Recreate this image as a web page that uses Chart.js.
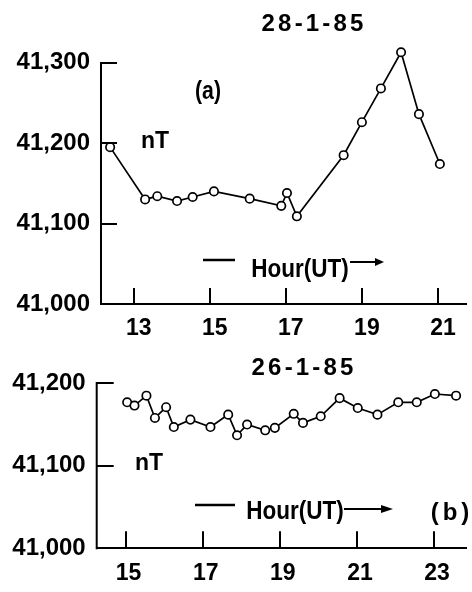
<!DOCTYPE html>
<html><head><meta charset="utf-8">
<script src="https://cdn.jsdelivr.net/npm/chart.js@4.4.1/dist/chart.umd.min.js"></script>
<style>
html,body{margin:0;padding:0;background:#fff;}
#wrap{position:relative;width:472px;height:592px;overflow:hidden;background:#fff;}
canvas{position:absolute;left:0;}
#ca{top:0;}
#cb{top:340px;}
</style></head><body>
<div id="wrap">
<canvas id="ca" width="472" height="340"></canvas>
<canvas id="cb" width="472" height="252"></canvas>
</div>
<script>
// ---- Panel (a): 28-1-85 ----
const hoursA = [12.38, 13.30, 13.62, 14.14, 14.55, 15.11, 16.05, 16.88, 17.03, 17.29, 18.52, 19.00, 19.50, 20.03, 20.50, 21.05];
const fieldA = [41195, 41130, 41134, 41128, 41133, 41140, 41131, 41122, 41138, 41109, 41185, 41226, 41268, 41313, 41236, 41174];
const tickHoursA = [13, 15, 17, 19, 21];
const tickFieldA = [41000, 41100, 41200, 41300];

// ---- Panel (b): 26-1-85 ----
const hoursB = [15.04, 15.23, 15.54, 15.76, 16.05, 16.25, 16.68, 17.20, 17.66, 17.89, 18.15, 18.62, 18.87, 19.36, 19.60, 20.06, 20.55, 21.02, 21.53, 22.07, 22.55, 23.02, 23.57];
const fieldB = [41177, 41173, 41185, 41158, 41171, 41147, 41156, 41147, 41162, 41137, 41150, 41143, 41146, 41163, 41152, 41160, 41182, 41170, 41162, 41177, 41177, 41187, 41185];
const tickHoursB = [15, 17, 19, 21, 23];
const tickFieldB = [41000, 41100, 41200];

const FONT = "'Liberation Sans', Arial, sans-serif";

const innerTicks = {
  id: 'innerTicks',
  afterDraw(chart, args, opts) {
    const {ctx, chartArea: a, scales: {x, y}} = chart;
    ctx.save();
    ctx.strokeStyle = '#000';
    ctx.lineWidth = 2;
    // y-axis line from bottom to the highest tick
    const topTick = y.getPixelForValue(y.ticks[y.ticks.length - 1].value);
    ctx.beginPath(); ctx.moveTo(a.left, a.bottom + 1); ctx.lineTo(a.left, Math.round(topTick) - 1); ctx.stroke();
    x.ticks.forEach(t => {
      const px = Math.round(x.getPixelForValue(t.value));
      ctx.beginPath(); ctx.moveTo(px, a.bottom); ctx.lineTo(px, a.bottom - opts.len); ctx.stroke();
    });
    y.ticks.forEach(t => {
      const py = Math.round(y.getPixelForValue(t.value));
      ctx.beginPath(); ctx.moveTo(a.left, py); ctx.lineTo(a.left + opts.len, py); ctx.stroke();
    });
    ctx.restore();
  }
};

const annotations = {
  id: 'annotations',
  afterDraw(chart, args, opts) {
    const ctx = chart.ctx;
    ctx.save();
    ctx.fillStyle = '#000';
    ctx.strokeStyle = '#000';
    (opts.texts || []).forEach(t => {
      ctx.font = 'bold ' + t.size + 'px ' + FONT;
      ctx.textBaseline = 'middle';
      const sx = t.sx || 1, sp = t.sp || 0;
      const chars = Array.from(t.text);
      let w = 0;
      chars.forEach((c, i) => { w += ctx.measureText(c).width * sx + (i < chars.length - 1 ? sp : 0); });
      let cx = t.x - w / 2;
      chars.forEach(c => {
        const cw = ctx.measureText(c).width;
        ctx.save();
        ctx.translate(cx, t.y);
        ctx.scale(sx, 1);
        ctx.textAlign = 'left';
        ctx.fillText(c, 0, 0);
        ctx.restore();
        cx += cw * sx + sp;
      });
    });
    (opts.lines || []).forEach(l => {
      ctx.lineWidth = l.w || 2;
      ctx.beginPath(); ctx.moveTo(l.x1, l.y); ctx.lineTo(l.x2, l.y); ctx.stroke();
      if (l.head) {
        ctx.beginPath();
        ctx.moveTo(l.x2 + l.head, l.y);
        ctx.lineTo(l.x2 - 1, l.y - 4);
        ctx.lineTo(l.x2 - 1, l.y + 4);
        ctx.closePath(); ctx.fill();
      }
    });
    ctx.restore();
  }
};

function makeChart(id, hours, field, tickH, tickF, cfg) {
  const pts = hours.map((h, i) => ({x: h, y: field[i]}));
  return new Chart(document.getElementById(id), {
    type: 'line',
    data: { datasets: [{
      data: pts,
      borderColor: '#000', borderWidth: 1.7,
      pointRadius: 4.2, pointBorderWidth: 1.7,
      pointBackgroundColor: '#fff', pointBorderColor: '#000',
      tension: 0, clip: false
    }]},
    options: {
      responsive: false, animation: false,
      layout: { padding: { top: cfg.top, left: 0, right: 0, bottom: 0 } },
      plugins: { legend: {display: false}, tooltip: {enabled: false},
        innerTicks: { len: cfg.tickLen },
        annotations: cfg.ann },
      scales: {
        x: {
          type: 'linear', min: cfg.xmin, max: cfg.xmax,
          afterBuildTicks: s => { s.ticks = tickH.map(v => ({value: v})); },
          afterFit: s => { s.height = cfg.xh; },
          grid: { display: false, drawTicks: false },
          border: { display: true, color: '#000', width: 2 },
          ticks: { color: '#000', padding: cfg.xpad, labelOffset: cfg.xoff, maxRotation: 0, autoSkip: false,
            font: { family: FONT, weight: 'bold', size: 23 } }
        },
        y: {
          type: 'linear', min: cfg.ymin, max: cfg.ymax,
          afterBuildTicks: s => { s.ticks = tickF.map(v => ({value: v})); },
          afterFit: s => { s.width = cfg.yw; },
          grid: { display: false, drawTicks: false },
          border: { display: false },
          ticks: { color: '#000', padding: 11,
            callback: v => v.toLocaleString('en-US'),
            font: { family: FONT, weight: 'bold', size: 24 } }
        }
      }
    },
    plugins: [innerTicks, annotations]
  });
}

makeChart('ca', hoursA, fieldA, tickHoursA, tickFieldA, {
  top: 46.6, xh: 36, yw: 101, xmin: 12.14, xmax: 21.74, ymin: 41000, ymax: 41320, xpad: 11, xoff: 5, tickLen: 16,
  ann: {
    texts: [
      {text: '28-1-85', x: 312.5, y: 24, size: 24, sp: 3.2},
      {text: '(a)', x: 208, y: 92, size: 25, sx: 0.85},
      {text: 'nT', x: 155, y: 142, size: 23},
      {text: 'Hour(UT)', x: 300, y: 270, size: 25, sx: 0.9}
    ],
    lines: [
      {x1: 203, x2: 235, y: 260, w: 2.5},
      {x1: 350, x2: 376, y: 262, w: 2, head: 8}
    ]
  }
});

makeChart('cb', hoursB, fieldB, tickHoursB, tickFieldB, {
  top: 43.3, xh: 43.7, yw: 96.7, xmin: 14.25, xmax: 23.83, ymin: 41000, ymax: 41200, xpad: 12, xoff: 3, tickLen: 17,
  ann: {
    texts: [
      {text: '26-1-85', x: 302.5, y: 28, size: 24, sp: 3.2},
      {text: 'nT', x: 149, y: 124, size: 23},
      {text: 'Hour(UT)', x: 295, y: 172, size: 25, sx: 0.9},
      {text: '(b)', x: 450, y: 173, size: 24, sp: 4}
    ],
    lines: [
      {x1: 195, x2: 235, y: 165, w: 2.5},
      {x1: 344, x2: 382, y: 169, w: 2, head: 11}
    ]
  }
});
</script>
</body></html>
